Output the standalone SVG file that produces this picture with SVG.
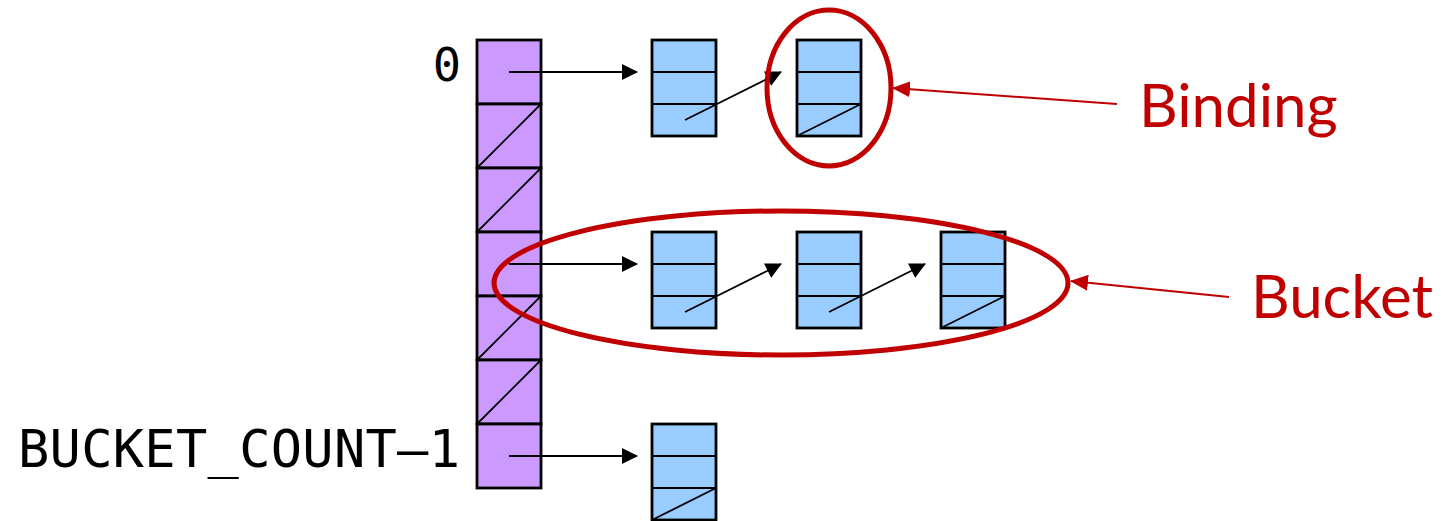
<svg xmlns="http://www.w3.org/2000/svg" width="1443" height="521" viewBox="0 0 1443 521">
<style>
.slot{fill:#cc99ff;stroke:#000;stroke-width:2.8}
.bind{fill:#99ccff;stroke:#000;stroke-width:2.8}
.div{stroke:#000;stroke-width:1.8;fill:none}
.ptr{stroke:#000;stroke-width:1.8;fill:none;marker-end:url(#ah)}
.mono{font-family:"DejaVu Sans Mono",monospace;fill:#000}
.red{fill:none;stroke:#c00000;stroke-width:5}
.rtext{font-family:Lato,"Open Sans",sans-serif;font-size:60px;fill:#c00000}
.rptr{stroke:#c00000;stroke-width:2;fill:none;marker-end:url(#rah)}
</style>
<defs>
<marker id="ah" markerWidth="16" markerHeight="16" refX="15" refY="8" orient="auto" markerUnits="userSpaceOnUse">
<path d="M0,0 L16,8 L0,16 Z" fill="#000"/>
</marker>
<marker id="rah" markerWidth="18" markerHeight="16" refX="17" refY="8" orient="auto" markerUnits="userSpaceOnUse">
<path d="M0,0 L18,8 L0,16 Z" fill="#c00000"/>
</marker>
</defs>
<rect width="1443" height="521" fill="#fff"/>

<g id="labels">
<text class="mono" x="461" y="81" font-size="47" text-anchor="end">0</text>
<text class="mono" x="18" y="467" font-size="52" textLength="442" lengthAdjust="spacing">BUCKET_COUNT–1</text>
</g>

<g id="array">
<rect class="slot" x="477" y="40" width="64" height="64"/>
<rect class="slot" x="477" y="104" width="64" height="64"/>
<rect class="slot" x="477" y="168" width="64" height="64"/>
<rect class="slot" x="477" y="232" width="64" height="64"/>
<rect class="slot" x="477" y="296" width="64" height="64"/>
<rect class="slot" x="477" y="360" width="64" height="64"/>
<rect class="slot" x="477" y="424" width="64" height="64"/>
<path class="div" d="M477,168 L541,104 M477,232 L541,168 M477,360 L541,296 M477,424 L541,360"/>
</g>

<g id="binding-0-0">
<rect class="bind" x="652" y="40" width="64" height="96"/>
<path class="div" d="M652,72 H716 M652,104 H716" stroke-width="2.8"/>
</g>
<g id="binding-0-1">
<rect class="bind" x="797" y="40" width="64" height="96"/>
<path class="div" d="M797,72 H861 M797,104 H861" stroke-width="2.8"/>
<path class="div" d="M797,136 L861,104"/>
</g>
<g id="binding-3-0">
<rect class="bind" x="652" y="232" width="64" height="96"/>
<path class="div" d="M652,264 H716 M652,296 H716" stroke-width="2.8"/>
</g>
<g id="binding-3-1">
<rect class="bind" x="797" y="232" width="64" height="96"/>
<path class="div" d="M797,264 H861 M797,296 H861" stroke-width="2.8"/>
</g>
<g id="binding-3-2">
<rect class="bind" x="941" y="232" width="64" height="96"/>
<path class="div" d="M941,264 H1005 M941,296 H1005" stroke-width="2.8"/>
<path class="div" d="M941,328 L1005,296"/>
</g>
<g id="binding-last-0">
<rect class="bind" x="652" y="424" width="64" height="96"/>
<path class="div" d="M652,456 H716 M652,488 H716" stroke-width="2.8"/>
<path class="div" d="M652,520 L716,488"/>
</g>

<g id="connectors">
<line class="ptr" x1="509" y1="72" x2="637" y2="72"/>
<line class="ptr" x1="685" y1="120" x2="781" y2="72"/>
<line class="ptr" x1="509" y1="264" x2="637" y2="264"/>
<line class="ptr" x1="685" y1="312" x2="781" y2="264"/>
<line class="ptr" x1="829" y1="312" x2="925" y2="264"/>
<line class="ptr" x1="509" y1="456" x2="637" y2="456"/>
<line class="rptr" x1="1117" y1="104" x2="893" y2="88"/>
<line class="rptr" x1="1229" y1="297" x2="1071" y2="281"/>
</g>

<g id="binding-callout">
<ellipse class="red" cx="829" cy="88" rx="62" ry="78"/>
<text class="rtext" x="1139" y="127">Binding</text>
</g>
<g id="bucket-callout">
<ellipse class="red" cx="781" cy="283" rx="287" ry="72"/>
<text class="rtext" x="1251" y="318">Bucket</text>
</g>
</svg>
